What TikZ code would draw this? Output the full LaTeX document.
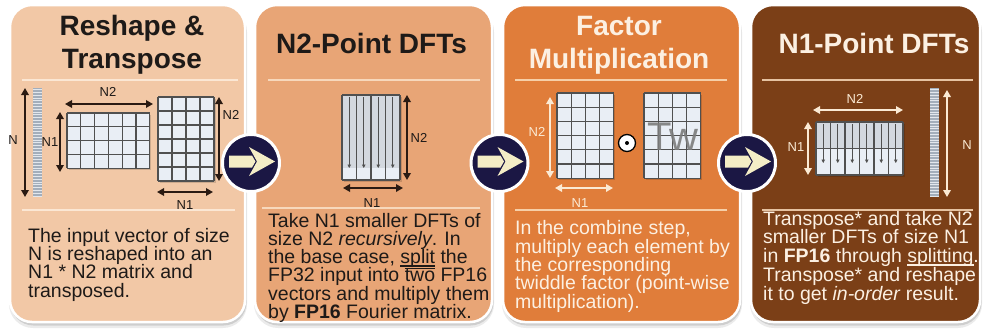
\documentclass[tikz,border=0pt]{standalone}
\usepackage{fontspec}
\setmainfont{Liberation Sans}
\usetikzlibrary{arrows.meta}
\definecolor{pA}{HTML}{F2C8A6}
\definecolor{pB}{HTML}{E8A576}
\definecolor{pC}{HTML}{E07D3A}
\definecolor{pD}{HTML}{7B3F17}
\definecolor{navy}{HTML}{1B1744}
\definecolor{cream}{HTML}{F4EDC6}
\definecolor{darkarrow}{HTML}{2A1A12}
\definecolor{lightarrow}{HTML}{FBEAD4}
\definecolor{cellfill}{HTML}{E9EEF5}
\definecolor{cellgray}{HTML}{D3D8DF}
\definecolor{gridcol}{HTML}{505050}
\definecolor{textdark}{HTML}{1E1A18}
\definecolor{textlight}{HTML}{FCF0E2}
\definecolor{sepA}{HTML}{FBE7D4}
\definecolor{sepB}{HTML}{F7D8BC}
\definecolor{sepC}{HTML}{F6CFA8}
\definecolor{sepD}{HTML}{E6C3A2}
\definecolor{vecfill}{HTML}{A3AEBB}
\definecolor{vecline}{HTML}{E2E7ED}
\definecolor{twgray}{HTML}{7C7C7C}

\newcommand{\myul}[1]{\setbox0\hbox{#1}\rlap{\raisebox{-3pt}[0pt][0pt]{\rule{\wd0}{1.2pt}}}\box0\relax}
\newcommand{\myol}[1]{\setbox0\hbox{#1}\rlap{\raisebox{13pt}[0pt][0pt]{\rule{\wd0}{1.2pt}}}\box0\relax}

\newcommand{\gridmat}[6]{%
  \fill[black, opacity=0.15] ({#1+1.5},{#2+1.5}) rectangle ({#1+#3*#5+1.5},{#2+#4*#6+1.5});
  \fill[cellfill] (#1,#2) rectangle ({#1+#3*#5},{#2+#4*#6});
  \foreach \i in {0,...,#3} \draw[gridline] ({#1+\i*#5},#2) -- ({#1+\i*#5},{#2+#4*#6});
  \foreach \j in {0,...,#4} \draw[gridline] (#1,{#2+\j*#6}) -- ({#1+#3*#5},{#2+\j*#6});
}
\newcommand{\vecbar}[2]{%
  \fill[vecfill] (#1,#2) rectangle ({#1+9},{#2+109});
  \foreach \k in {0,...,38} \draw[vecline, line width=0.6pt] (#1,{#2+1.5+\k*2.8}) -- ({#1+9},{#2+1.5+\k*2.8});
}
\newcommand{\panelshadow}[2]{%
  \fill[black, opacity=0.08, rounded corners=24pt] ({#1-1},8) rectangle ({#2+2},328);
  \fill[black, opacity=0.12, rounded corners=23pt] ({#1+0.5},7) rectangle ({#2+1.5},325.5);
}
\newcommand{\fwdarrow}[1]{%
  \fill[cream, shift={(#1)}, yshift=1.5pt] (-22,-6) -- (1,-6) -- (4.5,0) -- (1,6) -- (-22,6) -- cycle;
  \fill[cream, shift={(#1)}, yshift=1.5pt] (-2,-14.5) -- (24,0) -- (-2,14.5) -- (6,0) -- cycle;
}

\begin{document}
\begin{tikzpicture}[x=1pt,y=-1pt,
  panel/.style={draw=white, line width=2.5pt, rounded corners=22pt, inner sep=0pt, minimum height=317pt},
  title/.style={align=center, inner sep=0pt, anchor=base, font=\bfseries\fontsize{28}{33}\selectfont},
  body/.style={align=left, inner sep=0pt, anchor=base west, font=\fontsize{19.5}{18.3}\selectfont},
  lab/.style={font=\fontsize{13}{13}\selectfont, inner sep=0pt},
  sep/.style={line width=2pt},
  gridline/.style={draw=gridcol, line width=1.2pt},
  darr/.style={{Triangle[length=7pt,width=7.5pt]}-{Triangle[length=7pt,width=7.5pt]}, line width=1.7pt},
  colarrow/.style={-{Triangle[length=3.5pt,width=3.5pt]}, line width=0.9pt, draw=gridcol},
  circ/.style={circle, fill=navy, draw=white, line width=3pt, minimum size=57pt, inner sep=0pt}
]
\useasboundingbox (0,0) rectangle (985,333);

% ---------- panels ----------
\panelshadow{10}{245}
\panelshadow{255}{492}
\panelshadow{503}{740}
\panelshadow{751}{980}
\node[panel, fill=pA, minimum width=235pt] (p1) at (127.5,163.5) {};
\node[panel, fill=pB, minimum width=237pt] (p2) at (373.5,163.5) {};
\node[panel, fill=pC, minimum width=237pt] (p3) at (621.5,163.5) {};
\node[panel, fill=pD, minimum width=229pt] (p4) at (865.5,163.5) {};

% separators
\draw[sep, sepA] (22,80) -- (238,80);
\draw[sep, sepA] (22,210) -- (235,210);
\draw[sep, sepB] (268,80) -- (480,80);
\draw[sep, sepB] (262,208) -- (480,208);
\draw[sep, sepC] (515,80) -- (727,80);
\draw[sep, sepC] (515,210) -- (727,210);
\draw[sep, sepD] (762,80) -- (973,80);
\draw[sep, sepD] (762,210) -- (973,210);

% titles (multi-line nodes: base = last line)
\node[title, text=textdark] (h1) at (132,68) {Reshape \&\\Transpose};
\node[title, text=textdark] (h2) at (371.5,53) {N2-Point DFTs};
\node[title, text=textlight] (h3) at (619,68) {Factor\\Multiplication};
\node[title, text=textlight] (h4) at (874,53) {N1-Point DFTs};

% ---------- panel 1 figure ----------
\vecbar{33}{88}
\draw[darr, darkarrow] (25,88) -- (25,197);
\node[lab, text=textdark] (l1n) at (13,140) {N};
\gridmat{67}{113}{6}{4}{13.8}{13.8}
\draw[darr, darkarrow] (60,112) -- (60,172);
\node[lab, text=textdark] (l1a) at (50,142) {N1};
\draw[darr, darkarrow] (65,104) -- (153,104);
\node[lab, text=textdark] (l1b) at (108,92) {N2};
\gridmat{158}{97}{4}{6}{14}{14}
\draw[darr, darkarrow] (219,97) -- (219,181);
\node[lab, text=textdark] (l1c) at (231,115) {N2};
\draw[darr, darkarrow] (157,192) -- (213,192);
\node[lab, text=textdark] (l1d) at (185,205) {N1};

% ---------- panel 2 figure ----------
\fill[black, opacity=0.15] (343.5,96.5) rectangle (401.5,181.5);
\fill[cellfill] (342,95) rectangle (400,180);
\fill[cellgray] (342,95) rectangle (400,168);
\foreach \i in {0,...,4} \draw[gridline] ({342+\i*14.5},95) -- ({342+\i*14.5},180);
\draw[gridline] (342,95) -- (400,95) (342,180) -- (400,180);
\foreach \i in {0,...,3} \draw[colarrow] ({349.25+\i*14.5},97) -- ({349.25+\i*14.5},168);
\draw[darr, darkarrow] (407,95) -- (407,180);
\node[lab, text=textdark] (l2a) at (419,138) {N2};
\draw[darr, darkarrow] (343,188) -- (403,188);
\node[lab, text=textdark] (l2b) at (372,203) {N1};

% ---------- panel 3 figure ----------
\gridmat{557}{93}{4}{6}{14.2}{14.2}
\draw[darr, lightarrow] (550,97) -- (550,178);
\node[lab, text=lightarrow] (l3a) at (537,132) {N2};
\draw[darr, lightarrow] (555,188) -- (613,188);
\node[lab, text=lightarrow] (l3b) at (580,203) {N1};
\node[circle, draw=black, fill=white, line width=1.3pt, minimum size=17pt, inner sep=0pt] (od) at (627,143) {};
\fill[black] (od.center) circle (2);
\gridmat{644}{93}{4}{6}{14.2}{14.2}
\node[text=twgray, opacity=0.9, inner sep=0pt, font=\fontsize{40}{40}\selectfont] (tw) at (673,137) {Tw};

% ---------- panel 4 figure ----------
\fill[black, opacity=0.15] (817.5,123.5) rectangle (904.5,176.5);
\fill[cellfill] (816,122) rectangle (903,175);
\fill[cellgray] (816,122) rectangle (903,148.5);
\foreach \i in {0,...,6} \draw[gridline] ({816+\i*14.5},122) -- ({816+\i*14.5},175);
\draw[gridline] (816,122) -- (903,122) (816,148.5) -- (903,148.5) (816,175) -- (903,175);
\foreach \i in {0,...,5} \draw[colarrow] ({823.25+\i*14.5},124) -- ({823.25+\i*14.5},163);
\draw[darr, lightarrow] (813,110) -- (903,110);
\node[lab, text=lightarrow] (l4a) at (855,99) {N2};
\draw[darr, lightarrow] (808,122) -- (808,175);
\node[lab, text=lightarrow] (l4b) at (796,147) {N1};
\vecbar{930}{88}
\draw[darr, lightarrow] (947,90) -- (947,197);
\node[lab, text=lightarrow] (l4c) at (967,145) {N};

% ---------- body texts (base = last line baseline) ----------
\node[body, text=textdark] (t1) at (28,297) {The input vector of size\\N is reshaped into an\\N1 * N2 matrix and\\transposed.};
\node[body, text=textdark] (t2) at (268,318.5) {Take N1 smaller DFTs of\\size N2 \textit{recursively}. In\\the base case, \myul{split} the\\FP32 input into \myol{two} FP16\\vectors and multiply them\\by \textbf{FP16} Fourier matrix.};
\node[body, text=textlight] (t3) at (515,308) {In the combine step,\\multiply each element by\\the corresponding\\twiddle factor (point-wise\\multiplication).};
\node[body, text=textlight, font=\fontsize{19.5}{18.7}\selectfont] (t4) at (763,300) {Transpose* and take N2\\smaller DFTs of size N1\\in \textbf{FP16} through \myul{splitting}.\\Transpose* and reshape\\it to get \textit{in-order} result.};

% ---------- connector circles ----------
\node[circ] (c1) at (251,163) {};
\fwdarrow{c1}
\node[circ] (c2) at (499.5,163) {};
\fwdarrow{c2}
\node[circ] (c3) at (747,163) {};
\fwdarrow{c3}
\end{tikzpicture}
\end{document}
